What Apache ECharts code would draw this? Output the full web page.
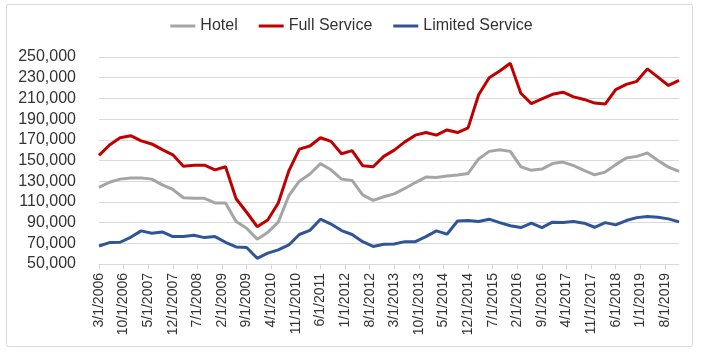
<!DOCTYPE html>
<html>
<head>
<meta charset="utf-8">
<script src="https://cdn.jsdelivr.net/npm/echarts@6/dist/echarts.min.js"></script>
<style>
  html, body { margin: 0; padding: 0; background: #fff; }
  #chart { width: 703px; height: 353px; }
</style>
</head>
<body>
<div id="chart"></div>
<script>
// quarterly values, 3/2006 .. 12/2019
const hotel = [
  124000, 129000, 132000, 133000, 133000, 132000, 126500, 122000,
  114000, 113500, 113500, 109000, 109000, 91000, 84500, 74000,
  80500, 90500, 116000, 130000, 137000, 147000, 141000, 132000,
  130700, 116800, 111500, 115000, 117800, 123000, 128700, 134000,
  133500, 135000, 136000, 137500, 151500, 158800, 160400, 158800,
  144000, 140500, 141700, 147000, 148500, 145000, 140500, 136200,
  138800, 146000, 152400, 154000, 157200, 150000, 143600, 139400
];
const fullService = [
  155000, 165000, 172000, 174000, 169000, 166000, 160500, 155500,
  144500, 145500, 145500, 141000, 144000, 113000, 100000, 86000,
  92500, 109000, 140000, 161000, 164000, 172000, 168500, 156500,
  159500, 145000, 144000, 154000, 160000, 168000, 174500, 177000,
  174500, 179500, 177000, 181500, 213500, 230000, 236500, 244000,
  215000, 205000, 209500, 214000, 216000, 211500, 209000, 205500,
  204500, 218500, 223500, 226500, 238500, 230500, 222500, 227500
];
const limitedService = [
  67400, 70700, 71000, 75800, 82000, 79700, 81000, 76500,
  76500, 77800, 75500, 76500, 71000, 66500, 66000, 55500,
  60500, 63600, 68400, 78500, 82500, 93300, 88600, 82300,
  78500, 71600, 67000, 69000, 69400, 71600, 71600, 76400,
  82000, 78800, 91500, 92000, 91000, 93300, 90000, 87000,
  85200, 89400, 85200, 90400, 90000, 91000, 89400, 85500,
  90000, 87800, 92000, 94800, 95800, 95200, 93600, 90700
];

const tickLabels = [
  '3/1/2006', '10/1/2006', '5/1/2007', '12/1/2007', '7/1/2008', '2/1/2009',
  '9/1/2009', '4/1/2010', '11/1/2010', '6/1/2011', '1/1/2012', '8/1/2012',
  '3/1/2013', '10/1/2013', '5/1/2014', '12/1/2014', '7/1/2015', '2/1/2016',
  '9/1/2016', '4/1/2017', '11/1/2017', '6/1/2018', '1/1/2019', '8/1/2019'
];

// monthly date axis, 3/1/2006 .. 12/1/2019
const startYear = 2006, startMonth = 3, monthCount = 166, quarterStep = 3;
const months = [];
for (let k = 0; k < monthCount; k++) {
  const m = (startMonth - 1 + k) % 12 + 1;
  const y = startYear + Math.floor((startMonth - 1 + k) / 12);
  months.push(m + '/1/' + y);
}

const toPoints = arr => arr.map((v, i) => [i * quarterStep, v]);
const showTick = (idx, val) => tickLabels.indexOf(val) !== -1;

const font = 'Liberation Sans';
const chart = echarts.init(document.getElementById('chart'));

const seriesList = [
  { name: 'Hotel', data: hotel, color: '#a5a5a5' },
  { name: 'Full Service', data: fullService, color: '#c00000' },
  { name: 'Limited Service', data: limitedService, color: '#2f5597' }
];

chart.setOption({
  animation: false,
  graphic: [{
    type: 'rect',
    shape: { x: 6.5, y: 4.5, width: 686, height: 342, r: 2 },
    style: { fill: 'none', stroke: '#d9d9d9', lineWidth: 1 },
    silent: true
  }],
  legend: {
    top: 13,
    left: 'center',
    icon: 'rect',
    itemWidth: 25,
    itemHeight: 3,
    itemGap: 21,
    textStyle: { fontFamily: font, fontSize: 16, color: '#333' },
    data: seriesList.map(s => s.name)
  },
  grid: { left: 99, right: 24, top: 57, bottom: 89, containLabel: false, outerBoundsMode: 'none' },
  xAxis: {
    type: 'category',
    boundaryGap: false,
    data: months,
    axisLine: { lineStyle: { color: '#d9d9d9', width: 1 } },
    axisTick: { show: true, interval: showTick, length: 5, lineStyle: { color: '#d9d9d9' } },
    axisLabel: {
      interval: showTick,
      rotate: 90,
      margin: 9,
      fontFamily: font,
      fontSize: 14,
      color: '#333'
    },
    splitLine: { show: false }
  },
  yAxis: {
    type: 'value',
    min: 50000,
    max: 250000,
    interval: 20000,
    axisLine: { show: false },
    axisTick: { show: false },
    axisLabel: {
      margin: 23,
      fontFamily: font,
      fontSize: 16,
      color: '#333',
      formatter: v => v.toLocaleString('en-US')
    },
    splitLine: { lineStyle: { color: '#d9d9d9', width: 1 } }
  },
  series: seriesList.map(s => ({
    name: s.name,
    type: 'line',
    data: toPoints(s.data),
    showSymbol: false,
    symbol: 'none',
    lineStyle: { color: s.color, width: 3 },
    itemStyle: { color: s.color }
  }))
});
</script>
</body>
</html>
